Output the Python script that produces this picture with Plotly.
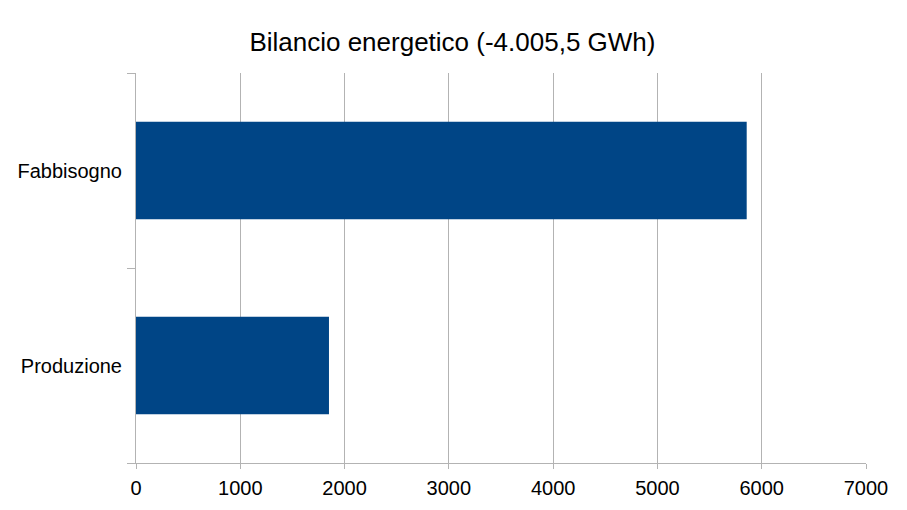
import plotly.graph_objects as go

categorie = ["Produzione", "Fabbisogno"]
valori_gwh = [1850.5, 5856.0]
titolo = "Bilancio energetico (-4.005,5 GWh)"

fig = go.Figure()

fig.add_trace(go.Bar(
    x=valori_gwh,
    y=categorie,
    orientation="h",
    marker=dict(color="#004586", line=dict(width=0)),
    hoverinfo="x+y",
))

# the page body adds an 8px margin, so the margins are 8px smaller than the plot offset
fig.update_layout(
    title=dict(text=titolo, x=0.49, xanchor="center", y=0.933, yanchor="middle",
               font=dict(family="Liberation Sans", size=26, color="black")),
    width=907, height=510,
    margin=dict(l=128, r=49, t=65, b=55),
    paper_bgcolor="white",
    plot_bgcolor="white",
    showlegend=False,
    bargap=0.5,
    font=dict(family="Liberation Sans", size=20, color="black"),
)

fig.update_xaxes(
    range=[0, 7000], dtick=1000,
    showgrid=True, gridcolor="#b3b3b3", gridwidth=1,
    zeroline=False,
    showline=True, linecolor="#b3b3b3", linewidth=1,
    ticks="outside", ticklen=5, tickcolor="#b3b3b3",
    ticklabelstandoff=2,
    tickfont=dict(size=20),
    automargin=False,
    fixedrange=True,
)

fig.update_yaxes(
    type="category",
    categoryorder="array", categoryarray=categorie,
    tickson="boundaries",
    ticks="outside", ticklen=8, tickcolor="#b3b3b3",
    showline=True, linecolor="#b3b3b3", linewidth=1,
    showgrid=False,
    ticklabelstandoff=9,
    tickfont=dict(size=20),
    automargin=False,
    fixedrange=True,
)

fig.write_html("out.html")
